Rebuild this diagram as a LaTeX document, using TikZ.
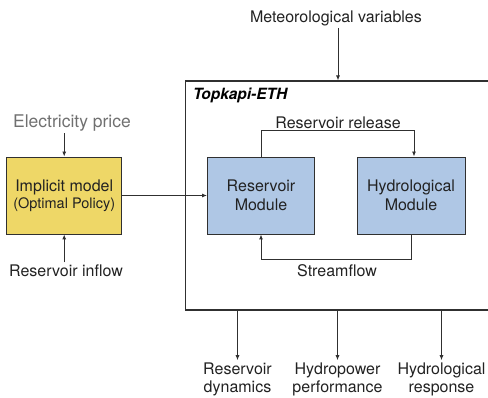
\documentclass[tikz,border=0pt]{standalone}
\usepackage{fontspec}
\setmainfont{TeX Gyre Heros}
\usetikzlibrary{arrows.meta}
\definecolor{policyyellow}{HTML}{EED767}
\definecolor{moduleblue}{HTML}{AFC7E5}
\definecolor{textgray}{HTML}{222222}
\definecolor{pricegray}{HTML}{707070}
\definecolor{linegray}{HTML}{303030}
\begin{document}
\begin{tikzpicture}[x=1pt,y=-1pt,
    every node/.style={text=textgray, font=\fontsize{16}{18}\selectfont, inner sep=2pt},
    module/.style={draw=linegray, line width=0.9pt, fill=moduleblue, minimum width=107pt,
        minimum height=77pt, align=center, inner sep=0pt},
    flow/.style={draw=linegray, line width=0.9pt, -{Latex[length=5pt,width=4pt]}}]
    \useasboundingbox (0,0) rectangle (488,398);

    % The Topkapi-ETH frame runs past the right border.
    \node[draw=linegray, line width=1.4pt, anchor=north west, minimum width=320pt,
        minimum height=229pt, inner sep=0pt] (eth) at (185,80.5) {};
    \node[anchor=west, text=black, font=\bfseries\itshape\fontsize{15.5}{18}\selectfont] (ethtitle) at (191,95) {Topkapi-ETH};

    \node[module, fill=policyyellow, minimum width=115pt] (policy) at (64.2,195.5)
        {Implicit model\\[-1pt]{\fontsize{14.5}{17}\selectfont(Optimal Policy)}};
    \node[module] (reservoir) at (261,195.5) {Reservoir\\[1pt]Module};
    \node[module, minimum width=108pt] (hydro) at (411,195.5) {Hydrological\\[1pt]Module};

    \node[text=pricegray, font=\fontsize{17.5}{20}\selectfont] (price) at (72,123) {Electricity price};
    \node (inflow) at (66,270.5) {Reservoir inflow};
    \node (meteo) at (336,18) {Meteorological variables};
    \node (release) at (338,122.5) {Reservoir release};
    \node (streamflow) at (337,270.5) {Streamflow};

    \node[align=center] (rdyn) at (237.5,379) {Reservoir\\dynamics};
    \node[align=center] (hperf) at (337.5,379) {Hydropower\\performance};
    \node[align=center] (hresp) at (441.5,379) {Hydrological\\response};

    \draw[flow] (policy.north |- price.south) -- (policy.north);
    \draw[flow] (policy.south |- inflow.north) -- (policy.south);
    \draw[flow] (policy.east) -- (reservoir.west);
    \draw[flow] (meteo.south -| 338,0) -- (338,80.5);
    \draw[flow] (reservoir.north) -- ++(0,-26) -| ([xshift=3pt]hydro.north);
    \draw[flow] (hydro.south) -- ++(0,25.5) -| (reservoir.south);

    % Outputs of the model chain.
    \draw[flow] (eth.south -| rdyn) -- (rdyn.north);
    \draw[flow] (eth.south -| hperf) -- (hperf.north);
    \draw[flow] (eth.south -| hresp) -- (hresp.north);
\end{tikzpicture}
\end{document}
